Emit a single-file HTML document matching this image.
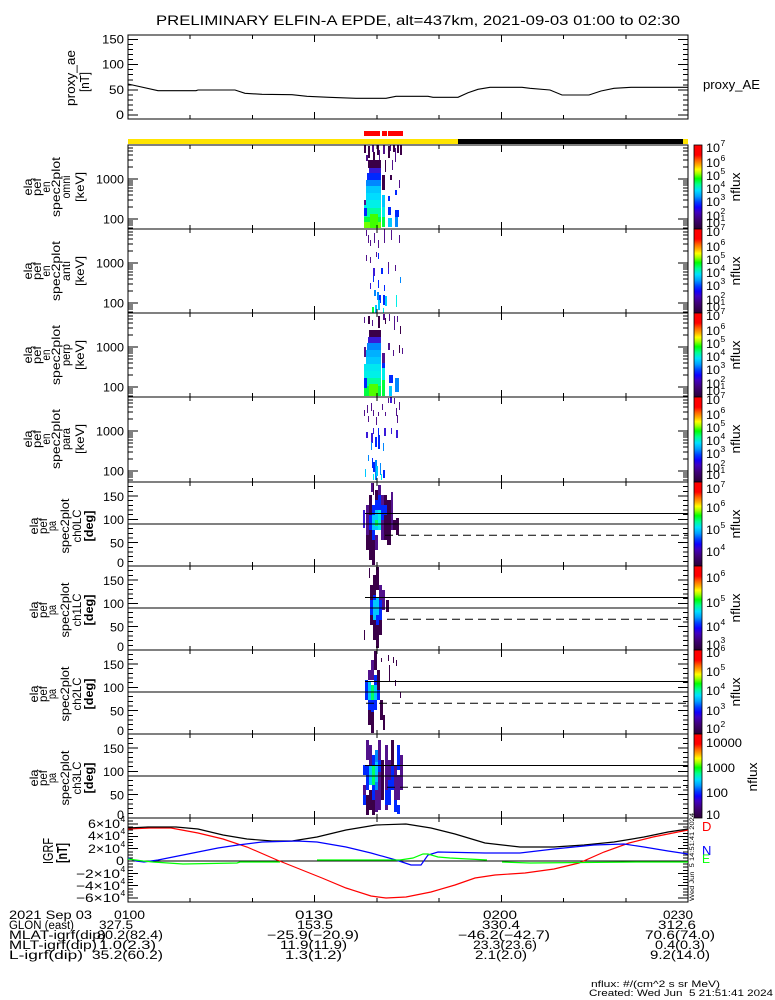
<!DOCTYPE html>
<html><head><meta charset="utf-8"><style>
html,body{margin:0;padding:0;background:#fff;}
svg{display:block;}
text{font-family:"Liberation Sans",sans-serif;fill:#000;white-space:pre;}
</style></head><body>
<svg width="775" height="1000" viewBox="0 0 775 1000" xmlns="http://www.w3.org/2000/svg">
<defs>
<linearGradient id="cb" x1="0" y1="0" x2="0" y2="1">
<stop offset="0" stop-color="#ff0000"/><stop offset="0.12" stop-color="#ff0000"/>
<stop offset="0.18" stop-color="#ff6000"/><stop offset="0.24" stop-color="#ffb000"/>
<stop offset="0.29" stop-color="#ffff00"/><stop offset="0.34" stop-color="#a0ff00"/>
<stop offset="0.40" stop-color="#00ff00"/><stop offset="0.47" stop-color="#00ff90"/>
<stop offset="0.54" stop-color="#00e0ff"/><stop offset="0.61" stop-color="#00a0ff"/>
<stop offset="0.68" stop-color="#0040ff"/><stop offset="0.74" stop-color="#1000ff"/>
<stop offset="0.80" stop-color="#4000c0"/><stop offset="0.88" stop-color="#40007a"/>
<stop offset="1" stop-color="#2a0035"/>
</linearGradient>
<path id="xtd" d="M190.2 0v4M252.4 0v4M314.7 0v7M376.9 0v4M439.1 0v4M501.3 0v7M563.6 0v4M625.8 0v4" stroke="#000" fill="none"/>
<path id="xtu" d="M190.2 0v-4M252.4 0v-4M314.7 0v-7M376.9 0v-4M439.1 0v-4M501.3 0v-7M563.6 0v-4M625.8 0v-4" stroke="#000" fill="none"/>
<path id="etk" stroke="#000" fill="none" d="M128 2.9h5M128 6h5M128 9.9h5M128 14.9h5M128 22h5M128 34h10M128 35.8h5M128 37.9h5M128 40.2h5M128 42.9h5M128 46h5M128 49.9h5M128 54.9h5M128 62h5M128 74h10M128 75.8h5M128 77.9h5M128 80.2h5M128 82.9h5M688 2.9h-5M688 6h-5M688 9.9h-5M688 14.9h-5M688 22h-5M688 34h-10M688 35.8h-5M688 37.9h-5M688 40.2h-5M688 42.9h-5M688 46h-5M688 49.9h-5M688 54.9h-5M688 62h-5M688 74h-10M688 75.8h-5M688 77.9h-5M688 80.2h-5M688 82.9h-5"/>
<path id="ptk" stroke="#000" fill="none" d="M128 4.67h5M128 9.33h5M128 14h10M128 18.67h5M128 23.33h5M128 28h5M128 32.67h5M128 37.33h10M128 42h5M128 46.67h5M128 51.33h5M128 56h5M128 60.67h10M128 65.33h5M128 70h5M128 74.67h5M128 79.33h5M688 4.67h-5M688 9.33h-5M688 14h-10M688 18.67h-5M688 23.33h-5M688 28h-5M688 32.67h-5M688 37.33h-10M688 42h-5M688 46.67h-5M688 51.33h-5M688 56h-5M688 60.67h-10M688 65.33h-5M688 70h-5M688 74.67h-5M688 79.33h-5"/>
</defs>

<!-- Title -->
<text x="156" y="25" font-size="14" textLength="524" lengthAdjust="spacingAndGlyphs">PRELIMINARY ELFIN-A EPDE, alt=437km, 2021-09-03 01:00 to 02:30</text>

<!-- Proxy AE panel -->
<g shape-rendering="crispEdges">
<rect x="128" y="35" width="560" height="84" fill="none" stroke="#000"/>
<path stroke="#000" fill="none" d="M128 39.5h10M128 44.53h5M128 49.57h5M128 54.6h5M128 59.63h5M128 64.67h10M128 69.7h5M128 74.73h5M128 79.77h5M128 84.8h5M128 89.83h10M128 94.87h5M128 99.9h5M128 104.93h5M128 109.97h5M128 115h10M688 39.5h-10M688 44.53h-5M688 49.57h-5M688 54.6h-5M688 59.63h-5M688 64.67h-10M688 69.7h-5M688 74.73h-5M688 79.77h-5M688 84.8h-5M688 89.83h-10M688 94.87h-5M688 99.9h-5M688 104.93h-5M688 109.97h-5M688 115h-10"/>
<use href="#xtd" y="35"/><use href="#xtu" y="119"/>
</g>
<polyline fill="none" stroke="#000" stroke-width="1.1" points="128,84 158,90.7 196,90.7 198,90 235,90 245,93.3 262,94.3 292,94.7 307,96.3 329,97.3 356,98.3 386,98.3 396,96.3 428,96.3 433,97.3 458,97.3 468,92.7 478,89.3 490,87.3 522,87.3 530,88.3 550,90 562,95 589,95 601,91 614,88.3 631,87.3 688,87.3"/>
<text x="124" y="43.5" font-size="12" text-anchor="end" textLength="22" lengthAdjust="spacingAndGlyphs">150</text>
<text x="124" y="68.5" font-size="12" text-anchor="end" textLength="22" lengthAdjust="spacingAndGlyphs">100</text>
<text x="124" y="94" font-size="12" text-anchor="end" textLength="15" lengthAdjust="spacingAndGlyphs">50</text>
<text x="124" y="119" font-size="12" text-anchor="end" textLength="8" lengthAdjust="spacingAndGlyphs">0</text>
<text transform="translate(75,78) rotate(-90)" font-size="13" text-anchor="middle" textLength="56" lengthAdjust="spacingAndGlyphs">proxy_ae</text>
<text transform="translate(89,82) rotate(-90)" font-size="13" text-anchor="middle" textLength="20" lengthAdjust="spacingAndGlyphs">[nT]</text>
<text x="703" y="89" font-size="13" textLength="57" lengthAdjust="spacingAndGlyphs">proxy_AE</text>

<!-- status bars -->
<rect x="364" y="131" width="16" height="5" fill="#ff0000"/>
<rect x="382" y="131" width="5" height="5" fill="#ff0000"/>
<rect x="388" y="131" width="15" height="5" fill="#ff0000"/>
<rect x="128" y="139" width="330" height="5" fill="#ffe400"/>
<rect x="458" y="139" width="225" height="5" fill="#000"/>
<rect x="683" y="139" width="5" height="5" fill="#ffe400"/>

<!-- ===== DATA: energy spectrograms ===== -->
<g shape-rendering="crispEdges">
<!-- E1 omni -->
<rect x="364" y="145" width="2" height="8" fill="#3a0048"/>
<rect x="368" y="146" width="2" height="12" fill="#3a0048"/>
<rect x="372" y="145" width="2" height="7" fill="#52128c"/>
<rect x="373" y="152" width="2" height="8" fill="#3a0048"/>
<rect x="377" y="145" width="2" height="10" fill="#3a0048"/>
<rect x="379" y="150" width="1" height="10" fill="#52128c"/>
<rect x="383" y="145" width="2" height="9" fill="#52128c"/>
<rect x="388" y="146" width="2" height="12" fill="#3a0048"/>
<rect x="390" y="145" width="1" height="6" fill="#52128c"/>
<rect x="393" y="145" width="2" height="7" fill="#3a0048"/>
<rect x="395" y="148" width="1" height="14" fill="#52128c"/>
<rect x="397" y="145" width="2" height="8" fill="#3a0048"/>
<rect x="400" y="145" width="2" height="10" fill="#3a0048"/>
<rect x="366" y="155" width="2" height="6" fill="#52128c"/>
<rect x="385" y="160" width="1" height="12" fill="#3a0048"/>
<rect x="392" y="160" width="1" height="10" fill="#52128c"/>
<rect x="399" y="180" width="1" height="8" fill="#52128c"/>
<rect x="390" y="175" width="2" height="5" fill="#3a0048"/>
<rect x="368" y="160" width="13" height="8" fill="#3a0048"/>
<rect x="369" y="168" width="12" height="6" fill="#3a1ad8"/>
<rect x="367" y="173" width="14" height="7" fill="#0028ff"/>
<rect x="366" y="180" width="15" height="6" fill="#0088ff"/>
<rect x="366" y="186" width="15" height="7" fill="#00c8ff"/>
<rect x="366" y="193" width="15" height="8" fill="#00dcff"/>
<rect x="364" y="200" width="17" height="8" fill="#00f0e8"/>
<rect x="364" y="208" width="17" height="9" fill="#00ffa0"/>
<rect x="364" y="217" width="17" height="5" fill="#00ff40"/>
<rect x="364" y="222" width="17" height="6" fill="#70ff00"/>
<rect x="370" y="214" width="8" height="14" fill="#40ff00"/>
<rect x="364" y="200" width="2" height="5" fill="#52128c"/>
<rect x="364" y="208" width="3" height="8" fill="#0028ff"/>
<rect x="382" y="175" width="3" height="15" fill="#3a0048"/>
<rect x="382" y="195" width="3" height="12" fill="#00c8ff"/>
<rect x="382" y="207" width="3" height="10" fill="#00f0e8"/>
<rect x="382" y="217" width="3" height="10" fill="#00ff40"/>
<rect x="388" y="196" width="2" height="5" fill="#0028ff"/>
<rect x="395" y="190" width="2" height="5" fill="#0028ff"/>
<rect x="388" y="207" width="3" height="8" fill="#0028ff"/>
<rect x="395" y="210" width="4" height="7" fill="#0028ff"/>
<rect x="388" y="218" width="4" height="9" fill="#00c8ff"/>
<rect x="395" y="217" width="3" height="10" fill="#0088ff"/>
<!-- E2 anti -->
<rect x="366" y="230" width="1" height="6" fill="#52128c"/>
<rect x="368" y="235" width="1" height="8" fill="#52128c"/>
<rect x="370" y="240" width="1" height="6" fill="#52128c"/>
<rect x="374" y="233" width="1" height="10" fill="#52128c"/>
<rect x="378" y="240" width="1" height="8" fill="#52128c"/>
<rect x="384" y="229" width="1" height="14" fill="#52128c"/>
<rect x="391" y="230" width="1" height="10" fill="#52128c"/>
<rect x="399" y="235" width="1" height="8" fill="#52128c"/>
<rect x="366" y="255" width="1" height="6" fill="#52128c"/>
<rect x="370" y="257" width="1" height="6" fill="#52128c"/>
<rect x="376" y="252" width="1" height="5" fill="#52128c"/>
<rect x="388" y="262" width="1" height="6" fill="#52128c"/>
<rect x="395" y="265" width="1" height="6" fill="#52128c"/>
<rect x="378" y="253" width="1" height="6" fill="#0028ff"/>
<rect x="373" y="268" width="2" height="8" fill="#3a1ad8"/>
<rect x="381" y="268" width="2" height="6" fill="#0028ff"/>
<rect x="388" y="268" width="1" height="6" fill="#3a1ad8"/>
<rect x="373" y="276" width="1" height="6" fill="#0028ff"/>
<rect x="378" y="280" width="1" height="8" fill="#0028ff"/>
<rect x="384" y="285" width="1" height="6" fill="#0028ff"/>
<rect x="400" y="277" width="1" height="6" fill="#0088ff"/>
<rect x="370" y="283" width="1" height="6" fill="#3a1ad8"/>
<rect x="374" y="290" width="2" height="6" fill="#0088ff"/>
<rect x="377" y="292" width="2" height="8" fill="#0088ff"/>
<rect x="379" y="295" width="2" height="8" fill="#0028ff"/>
<rect x="383" y="295" width="2" height="10" fill="#0028ff"/>
<rect x="385" y="296" width="2" height="10" fill="#00c8ff"/>
<rect x="396" y="295" width="1" height="12" fill="#00f0e8"/>
<rect x="372" y="307" width="2" height="6" fill="#00ff40"/>
<rect x="375" y="305" width="2" height="8" fill="#00c8ff"/>
<rect x="378" y="300" width="2" height="10" fill="#00c8ff"/>
<rect x="383" y="308" width="1" height="5" fill="#00f0e8"/>
<!-- E3 perp -->
<rect x="364" y="317" width="1" height="6" fill="#52128c"/>
<rect x="368" y="316" width="2" height="8" fill="#3a0048"/>
<rect x="372" y="320" width="1" height="6" fill="#52128c"/>
<rect x="378" y="316" width="2" height="12" fill="#3a0048"/>
<rect x="383" y="314" width="2" height="6" fill="#52128c"/>
<rect x="385" y="318" width="1" height="6" fill="#3a0048"/>
<rect x="389" y="314" width="1" height="7" fill="#52128c"/>
<rect x="394" y="316" width="1" height="14" fill="#52128c"/>
<rect x="397" y="316" width="1" height="6" fill="#52128c"/>
<rect x="400" y="326" width="1" height="8" fill="#3a0048"/>
<rect x="369" y="330" width="12" height="8" fill="#3a0048"/>
<rect x="368" y="337" width="13" height="6" fill="#3a1ad8"/>
<rect x="367" y="343" width="14" height="7" fill="#0088ff"/>
<rect x="366" y="350" width="15" height="7" fill="#00b0ff"/>
<rect x="366" y="357" width="15" height="7" fill="#00c8ff"/>
<rect x="364" y="364" width="17" height="7" fill="#00e8f0"/>
<rect x="364" y="371" width="17" height="7" fill="#00f0e8"/>
<rect x="364" y="378" width="17" height="8" fill="#00ffa0"/>
<rect x="364" y="386" width="17" height="10" fill="#00ff40"/>
<rect x="369" y="384" width="9" height="12" fill="#50ff00"/>
<rect x="364" y="347" width="2" height="10" fill="#52128c"/>
<rect x="364" y="378" width="3" height="10" fill="#0028ff"/>
<rect x="382" y="353" width="3" height="10" fill="#52128c"/>
<rect x="382" y="363" width="3" height="5" fill="#0028ff"/>
<rect x="382" y="368" width="3" height="12" fill="#00f0e8"/>
<rect x="382" y="380" width="3" height="16" fill="#00ff40"/>
<rect x="388" y="343" width="2" height="7" fill="#52128c"/>
<rect x="393" y="350" width="1" height="6" fill="#52128c"/>
<rect x="389" y="375" width="4" height="8" fill="#0028ff"/>
<rect x="395" y="378" width="4" height="14" fill="#0088ff"/>
<rect x="389" y="386" width="3" height="10" fill="#00c8ff"/>
<rect x="399" y="345" width="1" height="8" fill="#3a0048"/>
<rect x="402" y="348" width="1" height="6" fill="#52128c"/>
<!-- E4 para -->
<rect x="388" y="398" width="1" height="5" fill="#52128c"/>
<rect x="390" y="397" width="2" height="6" fill="#3a1ad8"/>
<rect x="394" y="398" width="1" height="6" fill="#52128c"/>
<rect x="399" y="402" width="1" height="8" fill="#52128c"/>
<rect x="367" y="405" width="1" height="8" fill="#52128c"/>
<rect x="371" y="403" width="1" height="8" fill="#52128c"/>
<rect x="382" y="404" width="1" height="6" fill="#52128c"/>
<rect x="396" y="408" width="1" height="8" fill="#52128c"/>
<rect x="364" y="410" width="1" height="6" fill="#52128c"/>
<rect x="373" y="410" width="1" height="6" fill="#52128c"/>
<rect x="378" y="412" width="1" height="4" fill="#52128c"/>
<rect x="385" y="412" width="1" height="4" fill="#52128c"/>
<rect x="368" y="416" width="1" height="6" fill="#52128c"/>
<rect x="376" y="417" width="1" height="8" fill="#52128c"/>
<rect x="397" y="415" width="1" height="8" fill="#52128c"/>
<rect x="373" y="428" width="1" height="6" fill="#3a1ad8"/>
<rect x="384" y="428" width="2" height="8" fill="#3a1ad8"/>
<rect x="391" y="428" width="1" height="6" fill="#3a1ad8"/>
<rect x="366" y="432" width="2" height="6" fill="#3a1ad8"/>
<rect x="371" y="433" width="2" height="10" fill="#3a1ad8"/>
<rect x="378" y="428" width="1" height="10" fill="#0028ff"/>
<rect x="396" y="430" width="2" height="8" fill="#3a1ad8"/>
<rect x="375" y="437" width="2" height="10" fill="#0028ff"/>
<rect x="378" y="435" width="2" height="14" fill="#0028ff"/>
<rect x="383" y="443" width="1" height="8" fill="#0088ff"/>
<rect x="371" y="442" width="1" height="8" fill="#0088ff"/>
<rect x="368" y="455" width="1" height="6" fill="#0088ff"/>
<rect x="372" y="458" width="1" height="10" fill="#0028ff"/>
<rect x="373" y="462" width="2" height="10" fill="#0028ff"/>
<rect x="375" y="460" width="2" height="20" fill="#0088ff"/>
<rect x="380" y="463" width="1" height="12" fill="#0088ff"/>
<rect x="383" y="470" width="2" height="8" fill="#0028ff"/>
<rect x="365" y="469" width="1" height="8" fill="#00c8ff"/>
<rect x="373" y="474" width="1" height="6" fill="#00f0e8"/>
<rect x="381" y="474" width="1" height="6" fill="#00f0e8"/>
<rect x="376" y="466" width="2" height="10" fill="#00c8ff"/>

<!-- PA1 -->
<rect x="363" y="510" width="2" height="18" fill="#3a1ad8"/>
<rect x="366" y="505" width="3" height="30" fill="#52128c"/>
<rect x="366" y="535" width="3" height="15" fill="#3a0048"/>
<rect x="369" y="495" width="3" height="65" fill="#3a0048"/>
<rect x="369" y="515" width="3" height="15" fill="#0028ff"/>
<rect x="372" y="505" width="3" height="10" fill="#0028ff"/>
<rect x="372" y="515" width="3" height="15" fill="#00c8ff"/>
<rect x="372" y="530" width="3" height="10" fill="#0028ff"/>
<rect x="372" y="540" width="3" height="25" fill="#3a0048"/>
<rect x="375" y="490" width="3" height="10" fill="#3a0048"/>
<rect x="375" y="500" width="3" height="10" fill="#0028ff"/>
<rect x="375" y="510" width="3" height="20" fill="#00c8ff"/>
<rect x="375" y="520" width="3" height="6" fill="#00ff60"/>
<rect x="375" y="535" width="3" height="15" fill="#52128c"/>
<rect x="378" y="485" width="3" height="10" fill="#52128c"/>
<rect x="378" y="495" width="3" height="15" fill="#0028ff"/>
<rect x="378" y="510" width="3" height="20" fill="#00f0e8"/>
<rect x="381" y="495" width="3" height="45" fill="#52128c"/>
<rect x="381" y="505" width="3" height="15" fill="#0028ff"/>
<rect x="384" y="495" width="3" height="45" fill="#3a0048"/>
<rect x="384" y="505" width="3" height="10" fill="#0028ff"/>
<rect x="387" y="500" width="4" height="45" fill="#3a0048"/>
<rect x="391" y="492" width="2" height="38" fill="#52128c"/>
<rect x="393" y="520" width="3" height="10" fill="#3a0048"/>
<rect x="396" y="518" width="3" height="17" fill="#3a0048"/>
<rect x="371" y="483" width="2" height="9" fill="#52128c"/>
<rect x="373" y="483" width="1" height="12" fill="#3a0048"/>
<rect x="366" y="540" width="1" height="10" fill="#3a0048"/>
<rect x="374" y="550" width="1" height="14" fill="#3a0048"/>
<!-- PA2 -->
<rect x="369" y="568" width="1" height="10" fill="#3a0048"/>
<rect x="370" y="585" width="3" height="40" fill="#3a0048"/>
<rect x="370" y="600" width="3" height="15" fill="#0028ff"/>
<rect x="373" y="575" width="3" height="25" fill="#3a0048"/>
<rect x="373" y="595" width="3" height="10" fill="#0028ff"/>
<rect x="373" y="600" width="3" height="20" fill="#00c8ff"/>
<rect x="373" y="620" width="3" height="20" fill="#3a0048"/>
<rect x="376" y="567" width="3" height="23" fill="#3a0048"/>
<rect x="376" y="598" width="3" height="20" fill="#00c8ff"/>
<rect x="376" y="615" width="3" height="10" fill="#0028ff"/>
<rect x="376" y="625" width="3" height="23" fill="#3a0048"/>
<rect x="379" y="585" width="3" height="15" fill="#52128c"/>
<rect x="379" y="600" width="3" height="20" fill="#0028ff"/>
<rect x="379" y="620" width="3" height="15" fill="#3a0048"/>
<rect x="382" y="590" width="3" height="20" fill="#52128c"/>
<rect x="386" y="600" width="3" height="12" fill="#3a0048"/>
<rect x="364" y="630" width="1" height="10" fill="#3a0048"/>
<!-- PA3 -->
<rect x="365" y="680" width="3" height="20" fill="#0028ff"/>
<rect x="368" y="670" width="3" height="10" fill="#52128c"/>
<rect x="368" y="682" width="3" height="18" fill="#00c8ff"/>
<rect x="368" y="700" width="3" height="10" fill="#0028ff"/>
<rect x="368" y="710" width="3" height="15" fill="#3a0048"/>
<rect x="371" y="660" width="3" height="20" fill="#52128c"/>
<rect x="371" y="685" width="3" height="15" fill="#00ff60"/>
<rect x="371" y="700" width="3" height="12" fill="#0028ff"/>
<rect x="371" y="712" width="3" height="21" fill="#3a0048"/>
<rect x="374" y="651" width="3" height="19" fill="#3a0048"/>
<rect x="374" y="675" width="3" height="10" fill="#0028ff"/>
<rect x="374" y="685" width="3" height="15" fill="#00c8ff"/>
<rect x="374" y="700" width="3" height="10" fill="#0028ff"/>
<rect x="377" y="670" width="3" height="20" fill="#3a0048"/>
<rect x="377" y="690" width="3" height="10" fill="#0028ff"/>
<rect x="380" y="700" width="3" height="20" fill="#3a0048"/>
<rect x="383" y="715" width="2" height="15" fill="#3a0048"/>
<rect x="388" y="655" width="1" height="6" fill="#3a0048"/>
<rect x="393" y="657" width="1" height="6" fill="#3a0048"/>
<rect x="396" y="660" width="1" height="6" fill="#3a0048"/>
<rect x="389" y="665" width="1" height="16" fill="#3a0048"/>
<rect x="395" y="680" width="1" height="6" fill="#3a0048"/>
<rect x="400" y="692" width="1" height="6" fill="#3a0048"/>
<rect x="381" y="658" width="1" height="4" fill="#3a0048"/>
<!-- PA4 -->
<rect x="363" y="765" width="3" height="10" fill="#0028ff"/>
<rect x="363" y="785" width="3" height="15" fill="#52128c"/>
<rect x="363" y="795" width="3" height="10" fill="#0028ff"/>
<rect x="366" y="740" width="3" height="20" fill="#52128c"/>
<rect x="366" y="765" width="3" height="25" fill="#0028ff"/>
<rect x="366" y="795" width="3" height="20" fill="#3a0048"/>
<rect x="369" y="745" width="3" height="20" fill="#52128c"/>
<rect x="369" y="765" width="3" height="20" fill="#00c8ff"/>
<rect x="369" y="790" width="3" height="20" fill="#3a0048"/>
<rect x="372" y="755" width="3" height="10" fill="#0028ff"/>
<rect x="372" y="765" width="3" height="20" fill="#00ff60"/>
<rect x="372" y="785" width="3" height="15" fill="#0028ff"/>
<rect x="372" y="800" width="3" height="15" fill="#3a0048"/>
<rect x="375" y="750" width="3" height="40" fill="#0088ff"/>
<rect x="375" y="762" width="3" height="20" fill="#00c8ff"/>
<rect x="375" y="790" width="3" height="22" fill="#52128c"/>
<rect x="378" y="740" width="3" height="70" fill="#52128c"/>
<rect x="378" y="760" width="3" height="12" fill="#0028ff"/>
<rect x="381" y="760" width="3" height="40" fill="#3a0048"/>
<rect x="385" y="745" width="3" height="65" fill="#52128c"/>
<rect x="385" y="790" width="3" height="15" fill="#0028ff"/>
<rect x="388" y="760" width="3" height="20" fill="#52128c"/>
<rect x="388" y="780" width="3" height="25" fill="#0028ff"/>
<rect x="391" y="740" width="3" height="30" fill="#3a0048"/>
<rect x="391" y="765" width="3" height="25" fill="#0028ff"/>
<rect x="394" y="765" width="3" height="35" fill="#52128c"/>
<rect x="394" y="800" width="3" height="12" fill="#0028ff"/>
<rect x="397" y="745" width="3" height="25" fill="#0028ff"/>
<rect x="397" y="775" width="3" height="25" fill="#52128c"/>
<rect x="397" y="805" width="3" height="9" fill="#0028ff"/>
<rect x="400" y="755" width="3" height="35" fill="#52128c"/>
</g>

<!-- ===== Axes of energy panels ===== -->
<g shape-rendering="crispEdges">
<rect x="128" y="145" width="560" height="84" fill="none" stroke="#000"/>
<rect x="128" y="229" width="560" height="84" fill="none" stroke="#000"/>
<rect x="128" y="313" width="560" height="84" fill="none" stroke="#000"/>
<rect x="128" y="397" width="560" height="85" fill="none" stroke="#000"/>
<use href="#etk" y="145"/><use href="#etk" y="229"/><use href="#etk" y="313"/><use href="#etk" y="397"/>
<use href="#xtd" y="145"/><use href="#xtd" y="229"/><use href="#xtd" y="313"/><use href="#xtd" y="397"/>
<use href="#xtu" y="229"/><use href="#xtu" y="313"/><use href="#xtu" y="397"/><use href="#xtu" y="482"/>
<!-- PA panels -->
<rect x="128" y="482" width="560" height="84" fill="none" stroke="#000"/>
<rect x="128" y="566" width="560" height="84" fill="none" stroke="#000"/>
<rect x="128" y="650" width="560" height="84" fill="none" stroke="#000"/>
<rect x="128" y="734" width="560" height="84" fill="none" stroke="#000"/>
<use href="#ptk" y="482"/><use href="#ptk" y="566"/><use href="#ptk" y="650"/><use href="#ptk" y="734"/>
<use href="#xtd" y="482"/><use href="#xtd" y="566"/><use href="#xtd" y="650"/><use href="#xtd" y="734"/>
<use href="#xtu" y="566"/><use href="#xtu" y="650"/><use href="#xtu" y="734"/><use href="#xtu" y="818"/>
<!-- PA reference lines -->
<path stroke="#000" fill="none" d="M128 524H688M365 513.3H688M128 608H688M365 597.3H688M128 692H688M365 681.3H688M128 776H688M365 765.3H688"/>
</g>
<path stroke="#000" fill="none" stroke-dasharray="8,5" d="M385 535.2H688M387 619.2H688M366 703.2H688M387 787.2H688"/>

<!-- Energy axis labels -->
<g font-size="12">
<text x="124" y="183.5" text-anchor="end" textLength="28" lengthAdjust="spacingAndGlyphs">1000</text>
<text x="124" y="223.5" text-anchor="end" textLength="21" lengthAdjust="spacingAndGlyphs">100</text>
<text x="124" y="267.5" text-anchor="end" textLength="28" lengthAdjust="spacingAndGlyphs">1000</text>
<text x="124" y="307.5" text-anchor="end" textLength="21" lengthAdjust="spacingAndGlyphs">100</text>
<text x="124" y="351.5" text-anchor="end" textLength="28" lengthAdjust="spacingAndGlyphs">1000</text>
<text x="124" y="391.5" text-anchor="end" textLength="21" lengthAdjust="spacingAndGlyphs">100</text>
<text x="124" y="435.5" text-anchor="end" textLength="28" lengthAdjust="spacingAndGlyphs">1000</text>
<text x="124" y="475.5" text-anchor="end" textLength="21" lengthAdjust="spacingAndGlyphs">100</text>
<!-- PA axis labels -->
<text x="124" y="501" text-anchor="end" textLength="21" lengthAdjust="spacingAndGlyphs">150</text>
<text x="124" y="524" text-anchor="end" textLength="21" lengthAdjust="spacingAndGlyphs">100</text>
<text x="124" y="547.5" text-anchor="end" textLength="14" lengthAdjust="spacingAndGlyphs">50</text>
<text x="124" y="567" text-anchor="end" textLength="7" lengthAdjust="spacingAndGlyphs">0</text>
<text x="124" y="585" text-anchor="end" textLength="21" lengthAdjust="spacingAndGlyphs">150</text>
<text x="124" y="608" text-anchor="end" textLength="21" lengthAdjust="spacingAndGlyphs">100</text>
<text x="124" y="631.5" text-anchor="end" textLength="14" lengthAdjust="spacingAndGlyphs">50</text>
<text x="124" y="651" text-anchor="end" textLength="7" lengthAdjust="spacingAndGlyphs">0</text>
<text x="124" y="669" text-anchor="end" textLength="21" lengthAdjust="spacingAndGlyphs">150</text>
<text x="124" y="692" text-anchor="end" textLength="21" lengthAdjust="spacingAndGlyphs">100</text>
<text x="124" y="715.5" text-anchor="end" textLength="14" lengthAdjust="spacingAndGlyphs">50</text>
<text x="124" y="735" text-anchor="end" textLength="7" lengthAdjust="spacingAndGlyphs">0</text>
<text x="124" y="753" text-anchor="end" textLength="21" lengthAdjust="spacingAndGlyphs">150</text>
<text x="124" y="776" text-anchor="end" textLength="21" lengthAdjust="spacingAndGlyphs">100</text>
<text x="124" y="799.5" text-anchor="end" textLength="14" lengthAdjust="spacingAndGlyphs">50</text>
<text x="124" y="819" text-anchor="end" textLength="7" lengthAdjust="spacingAndGlyphs">0</text>
</g>

<!-- Left rotated labels: energy panels -->
<g font-size="12" text-anchor="middle">
<text transform="translate(32,187) rotate(-90)" textLength="17" lengthAdjust="spacingAndGlyphs">ela</text>
<text transform="translate(41,187) rotate(-90)" textLength="18" lengthAdjust="spacingAndGlyphs">pef</text>
<text transform="translate(50,187) rotate(-90)" textLength="11" lengthAdjust="spacingAndGlyphs">en</text>
<text transform="translate(60,187) rotate(-90)" textLength="60" lengthAdjust="spacingAndGlyphs">spec2plot</text>
<text transform="translate(70,187) rotate(-90)" textLength="23" lengthAdjust="spacingAndGlyphs">omni</text>
<text transform="translate(84,187) rotate(-90)" textLength="30" lengthAdjust="spacingAndGlyphs">[keV]</text>

<text transform="translate(32,271) rotate(-90)" textLength="17" lengthAdjust="spacingAndGlyphs">ela</text>
<text transform="translate(41,271) rotate(-90)" textLength="18" lengthAdjust="spacingAndGlyphs">pef</text>
<text transform="translate(50,271) rotate(-90)" textLength="11" lengthAdjust="spacingAndGlyphs">en</text>
<text transform="translate(60,271) rotate(-90)" textLength="60" lengthAdjust="spacingAndGlyphs">spec2plot</text>
<text transform="translate(70,271) rotate(-90)" textLength="20" lengthAdjust="spacingAndGlyphs">anti</text>
<text transform="translate(84,271) rotate(-90)" textLength="30" lengthAdjust="spacingAndGlyphs">[keV]</text>

<text transform="translate(32,355) rotate(-90)" textLength="17" lengthAdjust="spacingAndGlyphs">ela</text>
<text transform="translate(41,355) rotate(-90)" textLength="18" lengthAdjust="spacingAndGlyphs">pef</text>
<text transform="translate(50,355) rotate(-90)" textLength="11" lengthAdjust="spacingAndGlyphs">en</text>
<text transform="translate(60,355) rotate(-90)" textLength="60" lengthAdjust="spacingAndGlyphs">spec2plot</text>
<text transform="translate(70,355) rotate(-90)" textLength="22" lengthAdjust="spacingAndGlyphs">perp</text>
<text transform="translate(84,355) rotate(-90)" textLength="30" lengthAdjust="spacingAndGlyphs">[keV]</text>

<text transform="translate(32,439) rotate(-90)" textLength="17" lengthAdjust="spacingAndGlyphs">ela</text>
<text transform="translate(41,439) rotate(-90)" textLength="18" lengthAdjust="spacingAndGlyphs">pef</text>
<text transform="translate(50,439) rotate(-90)" textLength="11" lengthAdjust="spacingAndGlyphs">en</text>
<text transform="translate(60,439) rotate(-90)" textLength="60" lengthAdjust="spacingAndGlyphs">spec2plot</text>
<text transform="translate(70,439) rotate(-90)" textLength="22" lengthAdjust="spacingAndGlyphs">para</text>
<text transform="translate(84,439) rotate(-90)" textLength="30" lengthAdjust="spacingAndGlyphs">[keV]</text>

<!-- PA panels -->
<text transform="translate(38,526) rotate(-90)" textLength="17" lengthAdjust="spacingAndGlyphs">ela</text>
<text transform="translate(47,526) rotate(-90)" textLength="16" lengthAdjust="spacingAndGlyphs">pef</text>
<text transform="translate(56,526) rotate(-90)" textLength="10" lengthAdjust="spacingAndGlyphs">pa</text>
<text transform="translate(69,526) rotate(-90)" textLength="55" lengthAdjust="spacingAndGlyphs">spec2plot</text>
<text transform="translate(81,526) rotate(-90)" textLength="33" lengthAdjust="spacingAndGlyphs">ch0LC</text>
<text transform="translate(93,526) rotate(-90)" textLength="31" lengthAdjust="spacingAndGlyphs" font-weight="bold">[deg]</text>

<text transform="translate(38,610) rotate(-90)" textLength="17" lengthAdjust="spacingAndGlyphs">ela</text>
<text transform="translate(47,610) rotate(-90)" textLength="16" lengthAdjust="spacingAndGlyphs">pef</text>
<text transform="translate(56,610) rotate(-90)" textLength="10" lengthAdjust="spacingAndGlyphs">pa</text>
<text transform="translate(69,610) rotate(-90)" textLength="55" lengthAdjust="spacingAndGlyphs">spec2plot</text>
<text transform="translate(81,610) rotate(-90)" textLength="33" lengthAdjust="spacingAndGlyphs">ch1LC</text>
<text transform="translate(93,610) rotate(-90)" textLength="31" lengthAdjust="spacingAndGlyphs" font-weight="bold">[deg]</text>

<text transform="translate(38,694) rotate(-90)" textLength="17" lengthAdjust="spacingAndGlyphs">ela</text>
<text transform="translate(47,694) rotate(-90)" textLength="16" lengthAdjust="spacingAndGlyphs">pef</text>
<text transform="translate(56,694) rotate(-90)" textLength="10" lengthAdjust="spacingAndGlyphs">pa</text>
<text transform="translate(69,694) rotate(-90)" textLength="55" lengthAdjust="spacingAndGlyphs">spec2plot</text>
<text transform="translate(81,694) rotate(-90)" textLength="33" lengthAdjust="spacingAndGlyphs">ch2LC</text>
<text transform="translate(93,694) rotate(-90)" textLength="31" lengthAdjust="spacingAndGlyphs" font-weight="bold">[deg]</text>

<text transform="translate(38,778) rotate(-90)" textLength="17" lengthAdjust="spacingAndGlyphs">ela</text>
<text transform="translate(47,778) rotate(-90)" textLength="16" lengthAdjust="spacingAndGlyphs">pef</text>
<text transform="translate(56,778) rotate(-90)" textLength="10" lengthAdjust="spacingAndGlyphs">pa</text>
<text transform="translate(69,778) rotate(-90)" textLength="55" lengthAdjust="spacingAndGlyphs">spec2plot</text>
<text transform="translate(81,778) rotate(-90)" textLength="33" lengthAdjust="spacingAndGlyphs">ch3LC</text>
<text transform="translate(93,778) rotate(-90)" textLength="31" lengthAdjust="spacingAndGlyphs" font-weight="bold">[deg]</text>
</g>

<!-- Colorbars -->
<g stroke="#000" stroke-width="0.8">
<rect x="694" y="145" width="8" height="84" fill="url(#cb)"/>
<rect x="694" y="229" width="8" height="84" fill="url(#cb)"/>
<rect x="694" y="313" width="8" height="84" fill="url(#cb)"/>
<rect x="694" y="397" width="8" height="85" fill="url(#cb)"/>
<rect x="694" y="482" width="8" height="84" fill="url(#cb)"/>
<rect x="694" y="566" width="8" height="84" fill="url(#cb)"/>
<rect x="694" y="650" width="8" height="84" fill="url(#cb)"/>
<rect x="694" y="734" width="8" height="84" fill="url(#cb)"/>
</g>

<!-- Colorbar labels -->
<g font-size="12">
<g id="elab1">
<text x="706" y="152" textLength="14" lengthAdjust="spacingAndGlyphs">10</text><text x="720.5" y="146" font-size="8.5">7</text>
<text x="706" y="167" textLength="14" lengthAdjust="spacingAndGlyphs">10</text><text x="720.5" y="161" font-size="8.5">6</text>
<text x="706" y="180" textLength="14" lengthAdjust="spacingAndGlyphs">10</text><text x="720.5" y="174" font-size="8.5">5</text>
<text x="706" y="193" textLength="14" lengthAdjust="spacingAndGlyphs">10</text><text x="720.5" y="187" font-size="8.5">4</text>
<text x="706" y="206" textLength="14" lengthAdjust="spacingAndGlyphs">10</text><text x="720.5" y="200" font-size="8.5">3</text>
<text x="706" y="220" textLength="14" lengthAdjust="spacingAndGlyphs">10</text><text x="720.5" y="214" font-size="8.5">2</text>
<text x="706" y="227" textLength="14" lengthAdjust="spacingAndGlyphs">10</text><text x="720.5" y="221" font-size="8.5">1</text>
</g>
<use href="#elab1" y="84"/>
<use href="#elab1" y="168"/>
<use href="#elab1" y="252"/>
<text x="706" y="493" textLength="14" lengthAdjust="spacingAndGlyphs">10</text><text x="720.5" y="487" font-size="8.5">7</text>
<text x="706" y="512" textLength="14" lengthAdjust="spacingAndGlyphs">10</text><text x="720.5" y="506" font-size="8.5">6</text>
<text x="706" y="534" textLength="14" lengthAdjust="spacingAndGlyphs">10</text><text x="720.5" y="528" font-size="8.5">5</text>
<text x="706" y="556" textLength="14" lengthAdjust="spacingAndGlyphs">10</text><text x="720.5" y="550" font-size="8.5">4</text>
<text x="706" y="582" textLength="14" lengthAdjust="spacingAndGlyphs">10</text><text x="720.5" y="576" font-size="8.5">6</text>
<text x="706" y="607" textLength="14" lengthAdjust="spacingAndGlyphs">10</text><text x="720.5" y="601" font-size="8.5">5</text>
<text x="706" y="631" textLength="14" lengthAdjust="spacingAndGlyphs">10</text><text x="720.5" y="625" font-size="8.5">4</text>
<text x="706" y="649" textLength="14" lengthAdjust="spacingAndGlyphs">10</text><text x="720.5" y="643" font-size="8.5">3</text>
<text x="706" y="657" textLength="14" lengthAdjust="spacingAndGlyphs">10</text><text x="720.5" y="651" font-size="8.5">6</text>
<text x="706" y="676" textLength="14" lengthAdjust="spacingAndGlyphs">10</text><text x="720.5" y="670" font-size="8.5">5</text>
<text x="706" y="695" textLength="14" lengthAdjust="spacingAndGlyphs">10</text><text x="720.5" y="689" font-size="8.5">4</text>
<text x="706" y="715" textLength="14" lengthAdjust="spacingAndGlyphs">10</text><text x="720.5" y="709" font-size="8.5">3</text>
<text x="706" y="733" textLength="14" lengthAdjust="spacingAndGlyphs">10</text><text x="720.5" y="727" font-size="8.5">2</text>
<text x="706" y="747" textLength="36" lengthAdjust="spacingAndGlyphs">10000</text>
<text x="706" y="772" textLength="29" lengthAdjust="spacingAndGlyphs">1000</text>
<text x="706" y="797" textLength="22" lengthAdjust="spacingAndGlyphs">100</text>
<text x="706" y="819" textLength="14" lengthAdjust="spacingAndGlyphs">10</text>
</g>
<g font-size="13" text-anchor="middle">
<text transform="translate(740,187) rotate(-90)" textLength="29" lengthAdjust="spacingAndGlyphs">nflux</text>
<text transform="translate(740,271) rotate(-90)" textLength="29" lengthAdjust="spacingAndGlyphs">nflux</text>
<text transform="translate(740,355) rotate(-90)" textLength="29" lengthAdjust="spacingAndGlyphs">nflux</text>
<text transform="translate(740,439) rotate(-90)" textLength="29" lengthAdjust="spacingAndGlyphs">nflux</text>
<text transform="translate(740,524) rotate(-90)" textLength="29" lengthAdjust="spacingAndGlyphs">nflux</text>
<text transform="translate(740,608) rotate(-90)" textLength="29" lengthAdjust="spacingAndGlyphs">nflux</text>
<text transform="translate(740,692) rotate(-90)" textLength="29" lengthAdjust="spacingAndGlyphs">nflux</text>
<text transform="translate(757,777) rotate(-90)" textLength="29" lengthAdjust="spacingAndGlyphs">nflux</text>
</g>

<!-- IGRF panel -->
<g shape-rendering="crispEdges">
<rect x="128" y="818" width="560" height="84" fill="none" stroke="#000"/>
<path stroke="#000" fill="none" d="M128 820.92h5M128 824h10M128 827.08h5M128 830.17h5M128 833.25h5M128 836.33h10M128 839.42h5M128 842.5h5M128 845.58h5M128 848.67h10M128 851.75h5M128 854.83h5M128 857.92h5M128 861h10M128 864.08h5M128 867.17h5M128 870.25h5M128 873.33h10M128 876.42h5M128 879.5h5M128 882.58h5M128 885.67h10M128 888.75h5M128 891.83h5M128 894.92h5M128 898h10M688 820.92h-5M688 824h-10M688 827.08h-5M688 830.17h-5M688 833.25h-5M688 836.33h-10M688 839.42h-5M688 842.5h-5M688 845.58h-5M688 848.67h-10M688 851.75h-5M688 854.83h-5M688 857.92h-5M688 861h-10M688 864.08h-5M688 867.17h-5M688 870.25h-5M688 873.33h-10M688 876.42h-5M688 879.5h-5M688 882.58h-5M688 885.67h-10M688 888.75h-5M688 891.83h-5M688 894.92h-5M688 898h-10"/>
<use href="#xtd" y="818"/><use href="#xtu" y="902"/>
<path stroke="#000" d="M128 861H688"/>
</g>
<g fill="none" stroke-width="1.2">
<polyline stroke="#ff0000" points="128,829 150,828 171,828 198,833 223,839 247,847 277,860 297,868 322,878 346,888 371,896 386,898 406,897 431,892 455,885 475,878 495,875 525,873 554,869 579,863 604,852 629,843 653,837 678,832 688,830"/>
<polyline stroke="#000" points="128,828 148,827 176,827 198,829 223,835 247,839 272,841 292,841 317,837 346,830 376,825 406,824 431,828 455,834 485,843 520,847 554,847 584,845 614,842 644,837 668,832 688,829"/>
<polyline stroke="#0000ff" points="128,858 136,861 144,862 158,860 178,856 198,852 218,848 238,845 262,842 297,841 317,842 346,847 371,853 396,860 411,865 421,865 428,855 438,852 485,853 520,853 554,849 594,845 624,844 644,847 668,851 688,854"/>
<polyline stroke="#00ff00" points="128,859 143,861 153,862 183,864 237,863 240,862 280,862"/>
<polyline stroke="#00ff00" points="317,860 400,860 413,858 423,854 428,854 438,857 450,858 487,860"/>
<polyline stroke="#00ff00" points="502,862 530,863 637,862 688,862"/>
</g>
<g font-size="12">
<text x="120" y="828" text-anchor="end" textLength="32" lengthAdjust="spacingAndGlyphs">6×10</text><text x="120.5" y="822" font-size="8.5">4</text>
<text x="120" y="840" text-anchor="end" textLength="32" lengthAdjust="spacingAndGlyphs">4×10</text><text x="120.5" y="834" font-size="8.5">4</text>
<text x="120" y="853" text-anchor="end" textLength="32" lengthAdjust="spacingAndGlyphs">2×10</text><text x="120.5" y="847" font-size="8.5">4</text>
<text x="124" y="865" text-anchor="end" textLength="8" lengthAdjust="spacingAndGlyphs">0</text>
<text x="120" y="878" text-anchor="end" textLength="44" lengthAdjust="spacingAndGlyphs">−2×10</text><text x="120.5" y="872" font-size="8.5">4</text>
<text x="120" y="890" text-anchor="end" textLength="44" lengthAdjust="spacingAndGlyphs">−4×10</text><text x="120.5" y="884" font-size="8.5">4</text>
<text x="120" y="902" text-anchor="end" textLength="44" lengthAdjust="spacingAndGlyphs">−6×10</text><text x="120.5" y="896" font-size="8.5">4</text>
</g>
<text transform="translate(53,851) rotate(-90)" font-size="15" text-anchor="middle" textLength="26" lengthAdjust="spacingAndGlyphs">IGRF</text>
<text transform="translate(67,853) rotate(-90)" font-size="15" text-anchor="middle" font-weight="bold" textLength="20" lengthAdjust="spacingAndGlyphs">[nT]</text>
<text x="702" y="831" font-size="13" style="fill:#ff0000">D</text>
<text x="702" y="855" font-size="13" style="fill:#0000ff">N</text>
<text x="702" y="863" font-size="12" style="fill:#00ff00">E</text>
<text transform="translate(694,857) rotate(-90)" font-size="6" text-anchor="middle" textLength="88" lengthAdjust="spacingAndGlyphs">Wed Jun  5 14:51:41 2024</text>

<!-- Bottom annotation block -->
<g font-size="11.5">
<text x="9" y="919" textLength="83" lengthAdjust="spacingAndGlyphs">2021 Sep 03</text>
<text x="114" y="919" textLength="31" lengthAdjust="spacingAndGlyphs">0100</text>
<text x="295" y="919" textLength="38" lengthAdjust="spacingAndGlyphs">0130</text>
<text x="483" y="919" textLength="34" lengthAdjust="spacingAndGlyphs">0200</text>
<text x="663" y="919" textLength="30" lengthAdjust="spacingAndGlyphs">0230</text>

<text x="9" y="929" textLength="65" lengthAdjust="spacingAndGlyphs">GLON (east)</text>
<text x="99" y="929" textLength="34" lengthAdjust="spacingAndGlyphs">327.5</text>
<text x="297" y="929" textLength="36" lengthAdjust="spacingAndGlyphs">153.5</text>
<text x="482" y="929" textLength="38" lengthAdjust="spacingAndGlyphs">330.4</text>
<text x="658" y="929" textLength="38" lengthAdjust="spacingAndGlyphs">312.6</text>

<text x="9" y="939" textLength="97" lengthAdjust="spacingAndGlyphs">MLAT-igrf(dip)</text>
<text x="97" y="939" textLength="66" lengthAdjust="spacingAndGlyphs">80.2(82.4)</text>
<text x="267" y="939" textLength="92" lengthAdjust="spacingAndGlyphs">−25.9(−20.9)</text>
<text x="458" y="939" textLength="92" lengthAdjust="spacingAndGlyphs">−46.2(−42.7)</text>
<text x="645" y="939" textLength="70" lengthAdjust="spacingAndGlyphs">70.6(74.0)</text>

<text x="9" y="949" textLength="88" lengthAdjust="spacingAndGlyphs">MLT-igrf(dip)</text>
<text x="99" y="949" textLength="57" lengthAdjust="spacingAndGlyphs">1.0(2.3)</text>
<text x="280" y="949" textLength="67" lengthAdjust="spacingAndGlyphs">11.9(11.9)</text>
<text x="473" y="949" textLength="64" lengthAdjust="spacingAndGlyphs">23.3(23.6)</text>
<text x="655" y="949" textLength="50" lengthAdjust="spacingAndGlyphs">0.4(0.3)</text>

<text x="9" y="959" textLength="74" lengthAdjust="spacingAndGlyphs">L-igrf(dip)</text>
<text x="92" y="959" textLength="71" lengthAdjust="spacingAndGlyphs">35.2(60.2)</text>
<text x="285" y="959" textLength="57" lengthAdjust="spacingAndGlyphs">1.3(1.2)</text>
<text x="475" y="959" textLength="52" lengthAdjust="spacingAndGlyphs">2.1(2.0)</text>
<text x="650" y="959" textLength="60" lengthAdjust="spacingAndGlyphs">9.2(14.0)</text>
</g>
<text x="591" y="987" font-size="9" textLength="129" lengthAdjust="spacingAndGlyphs">nflux: #/(cm^2 s sr MeV)</text>
<text x="589" y="996" font-size="9" textLength="184" lengthAdjust="spacingAndGlyphs">Created: Wed Jun  5 21:51:41 2024</text>
</svg>
</body></html>
